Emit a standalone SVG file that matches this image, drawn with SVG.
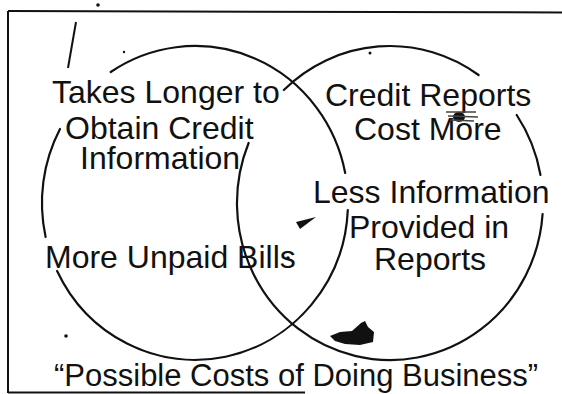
<svg xmlns="http://www.w3.org/2000/svg" width="562" height="394" viewBox="0 0 562 394">
  <style>
    .frame { fill: none; stroke: #111; stroke-width: 2; }
    .ring { fill: none; stroke: #111; stroke-width: 2.2; stroke-linecap: round; }
    .lbl { font-family: "Liberation Sans", Arial, Helvetica, sans-serif; font-size: 32px; fill: #111; }
    .cap { font-size: 31px; }
    .speck { fill: #111; }
  </style>
  <rect width="562" height="394" fill="#fff"/>

  <!-- open frame: top, left and part of the bottom edge -->
  <g id="frame">
    <path class="frame" d="M8,11 L562,12.5"/>
    <path class="frame" d="M8,11 L8,393"/>
    <path class="frame" d="M8,392.5 L305,392.5"/>
  </g>

  <!-- two overlapping rings, broken where labels cross them -->
  <g id="ring-left">
    <path class="ring" d="M60,129 A153,157 0 0 0 45.6,237"/>
    <path class="ring" d="M57.1,271 A153,157 0 0 0 347.8,210"/>
    <path class="ring" d="M345.2,173 A153,157 0 0 0 110.7,72"/>
  </g>
  <g id="ring-right">
    <path class="ring" d="M248.6,143 A153,157 0 1 0 542.6,214"/>
    <path class="ring" d="M540.5,175 A153,157 0 0 0 516.7,115"/>
    <path class="ring" d="M478.6,75 A153,157 0 0 0 283.8,90"/>
  </g>

  <g id="connectors"></g>

  <g id="label-longer">
    <text class="lbl" x="52" y="103">Takes Longer to</text>
    <text class="lbl" x="65" y="139">Obtain Credit</text>
    <text class="lbl" x="80" y="169">Information</text>
  </g>
  <g id="label-cost">
    <text class="lbl" x="325" y="106">Credit Reports</text>
    <text class="lbl" x="354" y="140">Cost More</text>
  </g>
  <g id="label-less">
    <text class="lbl" x="313" y="203">Less Information</text>
    <text class="lbl" x="349" y="238">Provided in</text>
    <text class="lbl" x="374" y="270">Reports</text>
  </g>
  <g id="label-unpaid">
    <text class="lbl" x="45" y="268">More Unpaid Bills</text>
  </g>
  <g id="caption">
    <text class="lbl cap" x="54" y="386">“Possible Costs of Doing Business”</text>
  </g>

  <!-- ink specks -->
  <g id="specks">
    <path d="M76,22 L68,68" stroke="#111" stroke-width="2" fill="none"/>
    <path class="speck" d="M330,336 L340,332 L352,331 L361,323 L365,321 L368,327 L374,332 L373,342 L360,345 L345,344 L335,341 Z"/>
    <ellipse class="speck" cx="459" cy="117" rx="6" ry="5"/>
    <path d="M446,112 L476,112 M448,116 L478,117 M450,120 L474,121" stroke="#444" stroke-width="1.5" fill="none"/>
    <path class="speck" d="M296,222 L316,217 L308,223 L300,229 Z"/>
    <circle class="speck" cx="98" cy="5" r="1.8"/>
    <circle class="speck" cx="288" cy="258" r="1.8"/>
    <circle class="speck" cx="66" cy="336" r="1.8"/>
    <circle class="speck" cx="124" cy="52" r="1.2"/>
    <circle class="speck" cx="370" cy="53" r="1.5"/>
  </g>
</svg>
